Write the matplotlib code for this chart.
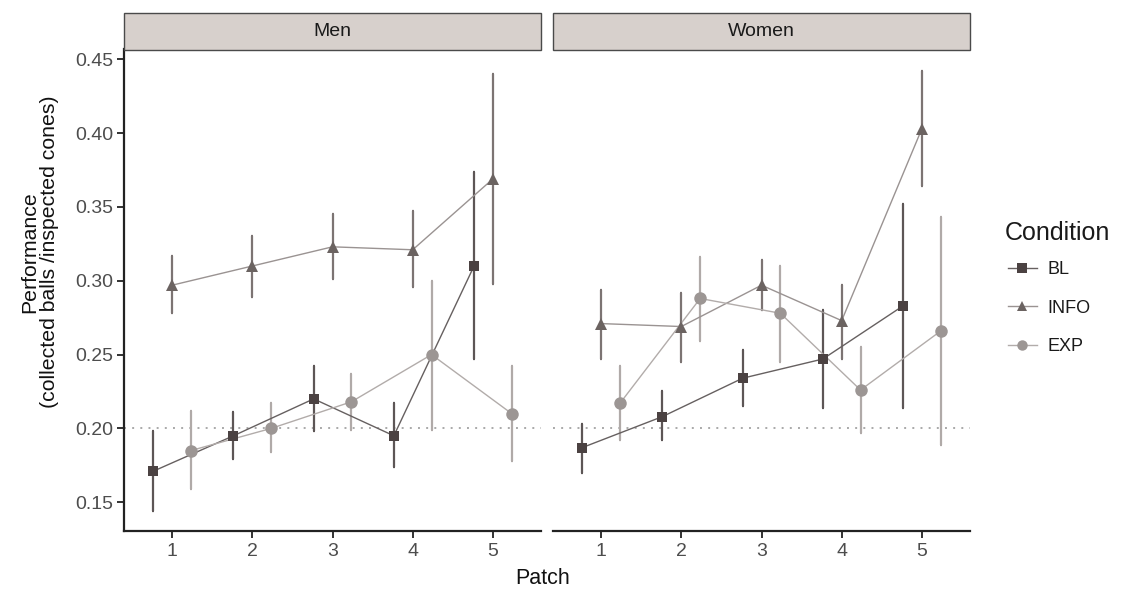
import matplotlib
matplotlib.use("Agg")
import matplotlib.pyplot as plt
from matplotlib.patches import Rectangle
from matplotlib.lines import Line2D

plt.rcParams['font.family'] = ['Liberation Sans', 'DejaVu Sans']

# ---- data -------------------------------------------------------------
patch = [1, 2, 3, 4, 5]
conditions = ["BL", "INFO", "EXP"]
panels = ["Men", "Women"]

men_bl = [0.171, 0.195, 0.220, 0.195, 0.310]
men_bl_lo = [0.144, 0.179, 0.198, 0.174, 0.247]
men_bl_hi = [0.198, 0.211, 0.242, 0.217, 0.374]

men_info = [0.297, 0.310, 0.323, 0.321, 0.369]
men_info_lo = [0.278, 0.289, 0.301, 0.296, 0.298]
men_info_hi = [0.317, 0.330, 0.345, 0.347, 0.440]

men_exp = [0.185, 0.200, 0.218, 0.250, 0.210]
men_exp_lo = [0.159, 0.184, 0.199, 0.199, 0.178]
men_exp_hi = [0.212, 0.217, 0.237, 0.300, 0.242]

women_bl = [0.187, 0.208, 0.234, 0.247, 0.283]
women_bl_lo = [0.170, 0.192, 0.215, 0.214, 0.214]
women_bl_hi = [0.203, 0.225, 0.253, 0.280, 0.352]

women_info = [0.271, 0.269, 0.297, 0.273, 0.403]
women_info_lo = [0.247, 0.245, 0.280, 0.247, 0.364]
women_info_hi = [0.294, 0.292, 0.314, 0.297, 0.442]

women_exp = [0.217, 0.288, 0.278, 0.226, 0.266]
women_exp_lo = [0.192, 0.259, 0.245, 0.197, 0.189]
women_exp_hi = [0.242, 0.316, 0.310, 0.255, 0.343]

chance_level = 0.20
y_ticks = [0.15, 0.20, 0.25, 0.30, 0.35, 0.40, 0.45]

series = {
    "Men": {
        "BL": (men_bl, men_bl_lo, men_bl_hi),
        "INFO": (men_info, men_info_lo, men_info_hi),
        "EXP": (men_exp, men_exp_lo, men_exp_hi),
    },
    "Women": {
        "BL": (women_bl, women_bl_lo, women_bl_hi),
        "INFO": (women_info, women_info_lo, women_info_hi),
        "EXP": (women_exp, women_exp_lo, women_exp_hi),
    },
}

# ---- styling ----------------------------------------------------------
dodge = {"BL": -0.235, "INFO": 0.0, "EXP": 0.235}
marker = {"BL": "s", "INFO": "^", "EXP": "o"}
msize = {"BL": 7.8, "INFO": 9.0, "EXP": 9.0}
pt_col = {"BL": "#4b4242", "INFO": "#6b6361", "EXP": "#9c9694"}
ln_col = {"BL": "#666060", "INFO": "#9a9392", "EXP": "#b2acaa"}
eb_col = {"BL": "#5d5656", "INFO": "#7c7473", "EXP": "#b0aaa8"}
axis_col = "#222222"
tick_txt = "#4d4d4d"

fig = plt.figure(figsize=(11.21, 5.91), dpi=100)
fig.patch.set_facecolor("white")

ax_bottom = 1 - 531 / 591
ax_top = 1 - 49 / 591
ax_h = ax_top - ax_bottom
ax_w = (541 - 124) / 1121
lefts = [124 / 1121, 553 / 1121]

for i, name in enumerate(panels):
    ax = fig.add_axes([lefts[i], ax_bottom, ax_w, ax_h])
    ax.set_xlim(0.4, 5.6)
    ax.set_ylim(0.1305, 0.4570)
    ax.axhline(chance_level, color="#a9a9a9", lw=1.4,
               linestyle=(0, (1, 3.2)), zorder=1)
    for cond in conditions:
        vals, lo, hi = series[name][cond]
        xs = [p + dodge[cond] for p in patch]
        yerr = [[v - l for v, l in zip(vals, lo)],
                [h - v for v, h in zip(vals, hi)]]
        ax.errorbar(xs, vals, yerr=yerr, fmt="none", ecolor=eb_col[cond],
                    elinewidth=1.6, capsize=0.7, capthick=1.6, zorder=2)
    for cond in conditions:
        vals = series[name][cond][0]
        xs = [p + dodge[cond] for p in patch]
        ax.plot(xs, vals, color=ln_col[cond], lw=1.0, zorder=3)
    for cond in conditions:
        vals = series[name][cond][0]
        xs = [p + dodge[cond] for p in patch]
        ax.plot(xs, vals, linestyle="none", marker=marker[cond],
                markersize=msize[cond], color=pt_col[cond],
                markeredgewidth=0, zorder=4)

    ax.set_xticks(patch)
    ax.set_xticklabels([str(p) for p in patch])
    ax.tick_params(axis="x", length=5, width=1.3, color=axis_col,
                   labelsize=14, labelcolor=tick_txt, pad=4)
    for s in ["top", "right"]:
        ax.spines[s].set_visible(False)
    ax.spines["bottom"].set_color(axis_col)
    ax.spines["bottom"].set_linewidth(1.6)
    if i == 0:
        ax.set_yticks(y_ticks)
        ax.set_yticklabels([f"{t:.2f}" for t in y_ticks])
        ax.tick_params(axis="y", length=5, width=1.3, color=axis_col,
                       labelsize=14, labelcolor=tick_txt, pad=3)
        ax.spines["left"].set_color(axis_col)
        ax.spines["left"].set_linewidth(1.6)
    else:
        ax.spines["left"].set_visible(False)
        ax.set_yticks([])

    # facet strip
    strip_bottom = 1 - 49.5 / 591
    strip_top = 1 - 13 / 591
    strip = Rectangle((lefts[i], strip_bottom), ax_w, strip_top - strip_bottom,
                      transform=fig.transFigure, facecolor="#d7d0cc",
                      edgecolor="#4a4a4a", lw=1.0)
    fig.add_artist(strip)
    fig.text(lefts[i] + ax_w / 2, (strip_bottom + strip_top) / 2, name,
             ha="center", va="center", fontsize=14, color="#1a1a1a")

fig.text(40 / 1121, 1 - 252 / 591,
         "Performance\n(collected balls /inspected cones)",
         rotation=90, ha="center", va="center", fontsize=15.3,
         color="#111111", linespacing=1.05)

fig.text(543 / 1121, 1 - 578 / 591, "Patch", ha="center",
         va="center", fontsize=15.5, color="#111111")

# legend: title as its own text, entries below it
fig.text(1005 / 1121, 1 - 233 / 591, "Condition", ha="left", va="center",
         fontsize=18, color="#1a1a1a")
handles = [Line2D([0], [0], color=ln_col[c], lw=1.0, marker=marker[c],
                  markersize=7.5, markerfacecolor=pt_col[c],
                  markeredgewidth=0) for c in conditions]
leg = fig.legend(handles, conditions,
                 loc="upper left", bbox_to_anchor=(1008 / 1121, 1 - 261 / 591),
                 frameon=False, fontsize=13,
                 handlelength=1.6, labelspacing=1.2, handletextpad=0.6,
                 borderaxespad=0, borderpad=0)
for t in leg.get_texts():
    t.set_color("#1a1a1a")

fig.savefig("out.png", dpi=100, facecolor="white")
